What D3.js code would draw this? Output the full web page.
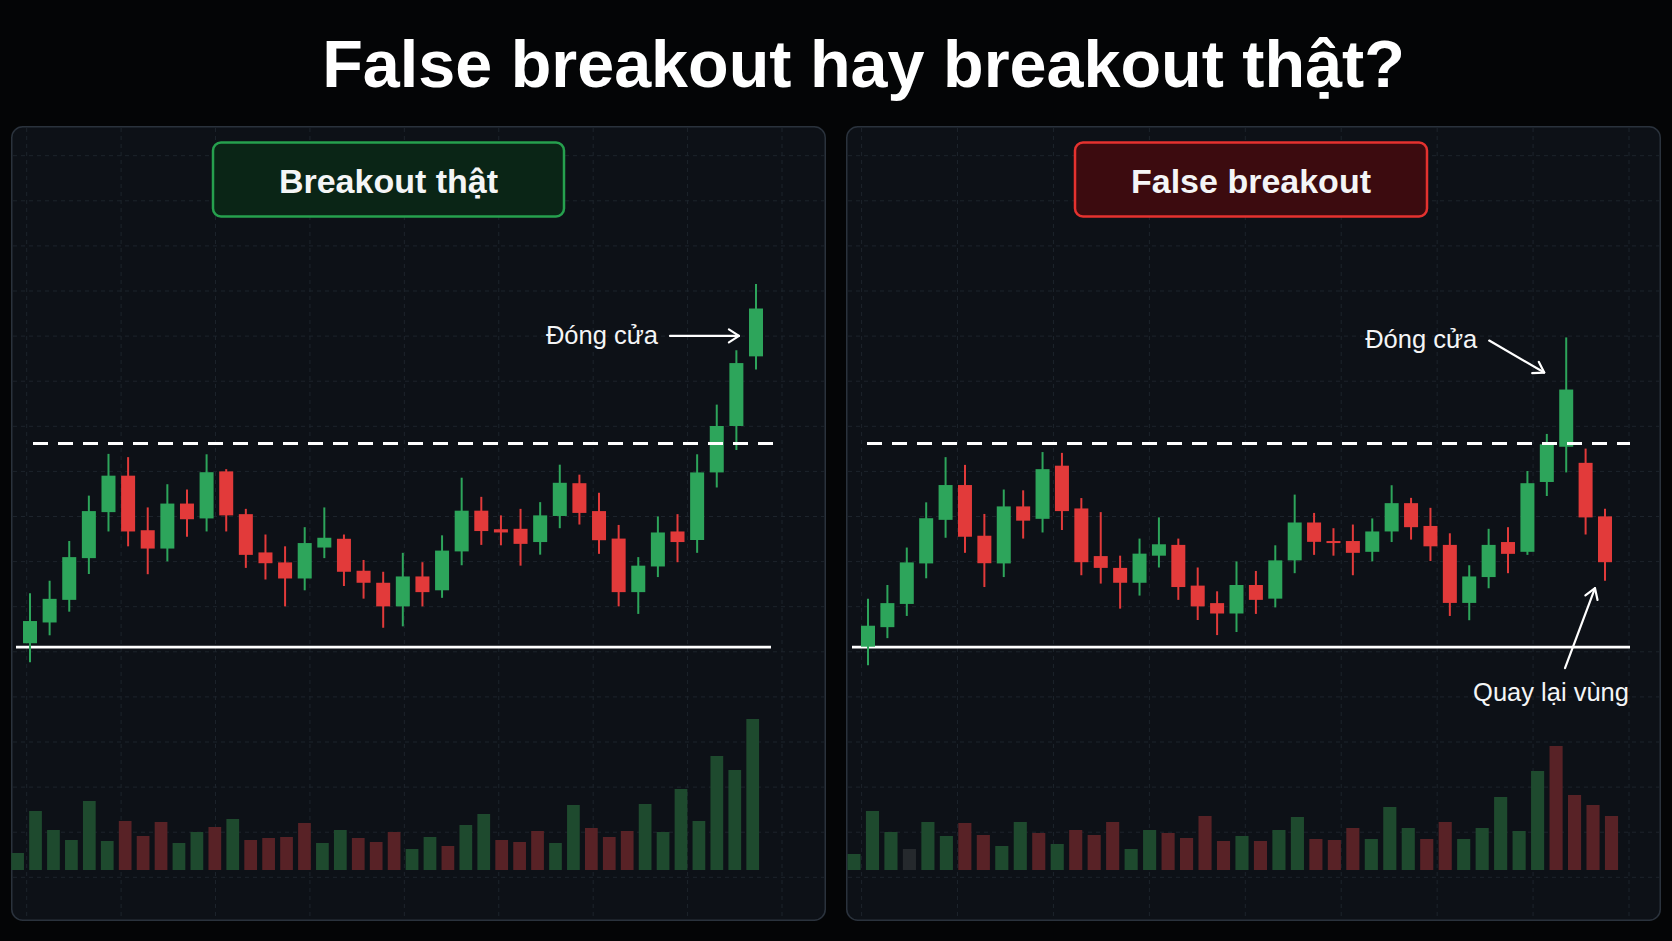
<!DOCTYPE html>
<html><head><meta charset="utf-8">
<script src="https://cdn.jsdelivr.net/npm/d3@7"></script>
<style>html,body{margin:0;padding:0;background:#040506;} svg{display:block}</style>
</head><body><svg id="c" width="1672" height="941"></svg>
<script>
// ---------------- DATA ----------------
const titleText = "False breakout hay breakout thật?";
const panelLabels = ["Breakout thật", "False breakout"];
const closeLabel = "Đóng cửa";
const returnLabel = "Quay lại vùng";
const supportLevel = [100, 100];
const resistanceLevel = [110, 110];

// Left panel: true breakout
const leftOpen  = [100.19,101.21,102.32,104.37,106.63,108.42,105.74,104.84,107.05,106.32,108.63,106.53,104.65,104.16,103.37,104.89,105.32,103.75,103.16,102.00,103.47,102.79,104.70,106.70,105.79,105.81,105.16,106.44,108.05,106.68,105.33,102.70,103.96,105.68,105.26,108.58,110.86,114.28];
const leftHigh  = [102.65,103.26,105.21,107.44,109.49,109.33,106.86,108.00,107.74,109.47,108.74,106.79,105.53,104.95,105.89,106.86,105.53,104.28,103.70,104.63,104.17,105.49,108.32,107.38,106.47,106.79,107.12,108.96,108.47,107.58,106.00,104.42,106.42,106.53,109.47,111.91,114.58,117.84];
const leftLow   = [99.26,100.58,101.74,103.59,105.68,104.95,103.58,104.21,105.42,105.68,105.68,103.89,103.32,102.00,102.79,104.37,103.00,102.38,100.95,101.02,102.00,102.42,104.02,105.02,105.00,104.00,104.54,105.84,106.02,104.58,102.00,101.63,103.44,104.17,104.63,107.84,109.68,113.63];
const leftClose = [101.28,102.37,104.42,106.68,108.42,105.68,104.84,107.05,106.28,108.59,106.47,104.53,104.12,103.37,105.11,105.37,103.70,103.16,102.00,103.47,102.70,104.74,106.70,105.70,105.63,105.07,106.47,108.07,106.59,105.25,102.70,104.00,105.63,105.16,108.58,110.86,113.95,116.63];
const leftVolume = [17,59,40,30,69,29,49,34,48,27,38,43,51,30,32,33,47,27,40,32,28,38,21,33,24,45,56,30,28,39,27,65,42,33,39,66,38,81,49,114,100,151];
const leftVolumeDir = "GGGGGGRRRGGRGRRRRGGRRRGGRGGRRRGGRRRGGGGGGG".split("");

// Right panel: false breakout
const rightOpen  = [100.02,100.98,102.12,104.11,106.25,107.96,105.47,104.11,106.91,106.30,108.91,106.81,104.47,103.89,103.16,104.49,105.02,103.02,102.16,101.65,103.05,102.38,104.26,106.12,105.21,105.21,104.68,105.68,107.07,105.95,105.02,102.17,103.44,105.16,104.68,108.11,109.84,109.05,106.42];
const rightHigh  = [102.38,103.05,104.89,107.11,109.33,108.95,106.54,107.74,107.70,109.58,109.54,107.32,106.63,104.49,105.33,106.37,105.33,103.91,102.74,104.21,103.74,105.00,107.49,106.59,105.84,106.02,106.32,107.95,107.33,106.84,105.59,104.02,105.81,105.89,108.65,110.47,115.21,109.75,106.79];
const rightLow   = [99.11,100.44,101.53,103.38,105.37,104.63,102.95,103.44,105.33,105.63,105.75,103.53,103.12,101.89,102.53,103.91,102.32,101.33,100.59,100.74,101.63,101.95,103.63,104.53,104.49,103.53,104.21,105.16,105.28,104.23,101.53,101.32,102.89,103.63,104.53,107.42,108.58,105.53,103.26];
const rightClose = [101.05,102.16,104.16,106.33,107.96,105.42,104.12,106.91,106.21,108.74,106.68,104.17,103.89,103.16,104.59,105.05,102.95,102.00,101.65,103.05,102.32,104.26,106.12,105.17,105.11,104.63,105.68,107.07,105.89,104.95,102.17,103.47,105.02,104.58,108.05,109.96,112.65,106.37,104.17];
const rightVolume = [16,59,38,21,48,34,47,35,24,48,37,26,40,35,48,21,40,37,32,54,29,34,29,40,53,31,30,42,31,63,42,31,48,31,42,73,39,99,124,75,65,54];
const rightVolumeDir = "GGGNGGRRGGRGRRRGGRRRRGRGGRRRGGGRRGGGGGRRRR".split("");

// ---------------- STYLE / LAYOUT ----------------
const C = {
  bg: "#040506", panel: "#0d1117", panelStroke: "#2a323c", grid: "#1d242c",
  up: "#2da55b", down: "#e23a3a",
  volUp: "#1e4a2e", volDown: "#582226", volN: "#25292d",
  text: "#f4f5f6"
};
const FONT = "'Liberation Sans', Arial, Helvetica, sans-serif";

const svg = d3.select("#c");
svg.append("rect").attr("width", 1672).attr("height", 941).attr("fill", C.bg);

// title
svg.append("text").attr("x", 863.5).attr("y", 87).attr("text-anchor", "middle")
  .attr("font-family", FONT).attr("font-weight", 700).attr("font-size", 66.5)
  .attr("fill", "#ffffff").text(titleText);

const y = d3.scaleLinear().domain([100, 110]).range([647.1, 443.5]);
const yVol = d3.scaleLinear().domain([0, 100]).range([870, 770]);

const panels = [
  { x: 11, w: 815, open: leftOpen, high: leftHigh, low: leftLow, close: leftClose,
    vol: leftVolume, volDir: leftVolumeDir,
    candleRange: [30, 756], volRange: [17.6, 752.7], gridX: [26.7, 782],
    supportX: [16, 771], resistX: [33, 780], labelBox: [213, 564],
    labelFill: "#0a2516", labelStroke: "#26a04e", label: panelLabels[0],
    support: supportLevel[0], resist: resistanceLevel[0] },
  { x: 846, w: 815, open: rightOpen, high: rightHigh, low: rightLow, close: rightClose,
    vol: rightVolume, volDir: rightVolumeDir,
    candleRange: [868, 1605], volRange: [854, 1611.5], gridX: [861.6, 1629],
    supportX: [852, 1630], resistX: [867, 1630], labelBox: [1075, 1427],
    labelFill: "#3c0b0f", labelStroke: "#e5322f", label: panelLabels[1],
    support: supportLevel[1], resist: resistanceLevel[1] }
];

const panelTop = 126, panelH = 795;
const gridY = d3.scaleLinear().domain([0, 16]).range([155.7, 877.3]);

function arrow(g, x1, y1, x2, y2) {
  g.append("line").attr("x1", x1).attr("y1", y1).attr("x2", x2).attr("y2", y2)
    .attr("stroke", "#ffffff").attr("stroke-width", 2.2).attr("stroke-linecap", "round");
  const a = Math.atan2(y2 - y1, x2 - x1), L = 12, s = Math.PI / 5.5;
  const p = [[x2 - L * Math.cos(a - s), y2 - L * Math.sin(a - s)], [x2, y2],
             [x2 - L * Math.cos(a + s), y2 - L * Math.sin(a + s)]];
  g.append("path").attr("d", d3.line()(p)).attr("fill", "none")
    .attr("stroke", "#ffffff").attr("stroke-width", 2.2)
    .attr("stroke-linecap", "round").attr("stroke-linejoin", "round");
}

const built = panels.map((P, pi) => {
  const g = svg.append("g");
  g.append("rect").attr("x", P.x + 0.75).attr("y", panelTop + 0.75)
    .attr("width", P.w - 1.5).attr("height", panelH - 1.5).attr("rx", 11)
    .attr("fill", C.panel).attr("stroke", C.panelStroke).attr("stroke-width", 1.5);

  // grid
  const gx = d3.scaleLinear().domain([0, 8]).range(P.gridX);
  const grid = g.append("g").attr("stroke", C.grid).attr("stroke-width", 1)
    .attr("stroke-dasharray", "4,4");
  d3.range(9).forEach(i => grid.append("line").attr("x1", gx(i)).attr("x2", gx(i))
    .attr("y1", panelTop + 2).attr("y2", panelTop + panelH - 2));
  d3.range(17).forEach(i => grid.append("line").attr("x1", P.x + 2).attr("x2", P.x + P.w - 2)
    .attr("y1", gridY(i)).attr("y2", gridY(i)));

  // volume
  const xv = d3.scalePoint().domain(d3.range(P.vol.length)).range(P.volRange);
  const vw = xv.step() * 0.71;
  g.append("g").selectAll("rect").data(P.vol).join("rect")
    .attr("x", (d, i) => xv(i) - vw / 2).attr("width", vw)
    .attr("y", d => yVol(d)).attr("height", d => yVol(0) - yVol(d))
    .attr("fill", (d, i) => P.volDir[i] === "G" ? C.volUp : P.volDir[i] === "R" ? C.volDown : C.volN);

  // support
  g.append("line").attr("x1", P.supportX[0]).attr("x2", P.supportX[1])
    .attr("y1", y(P.support)).attr("y2", y(P.support))
    .attr("stroke", "#ffffff").attr("stroke-width", 2.8);

  // candles
  const xc = d3.scalePoint().domain(d3.range(P.open.length)).range(P.candleRange);
  const bw = 14;
  const data = P.open.map((o, i) => ({ i, o, h: P.high[i], l: P.low[i], c: P.close[i] }));
  const cg = g.append("g");
  cg.selectAll("line").data(data).join("line")
    .attr("x1", d => xc(d.i)).attr("x2", d => xc(d.i))
    .attr("y1", d => y(d.h)).attr("y2", d => y(d.l))
    .attr("stroke", d => d.c >= d.o ? C.up : C.down).attr("stroke-width", 2);
  cg.selectAll("rect").data(data).join("rect")
    .attr("x", d => xc(d.i) - bw / 2).attr("width", bw)
    .attr("y", d => y(Math.max(d.o, d.c)))
    .attr("height", d => Math.max(2, Math.abs(y(d.o) - y(d.c))))
    .attr("fill", d => d.c >= d.o ? C.up : C.down);

  // resistance
  g.append("line").attr("x1", P.resistX[0]).attr("x2", P.resistX[1])
    .attr("y1", y(P.resist)).attr("y2", y(P.resist))
    .attr("stroke", "#ffffff").attr("stroke-width", 3).attr("stroke-dasharray", "15,10");

  // label box
  const [bx0, bx1] = P.labelBox;
  g.append("rect").attr("x", bx0).attr("y", 142.5).attr("width", bx1 - bx0).attr("height", 74)
    .attr("rx", 8).attr("fill", P.labelFill).attr("stroke", P.labelStroke).attr("stroke-width", 2.5);
  g.append("text").attr("x", (bx0 + bx1) / 2).attr("y", 192.5).attr("text-anchor", "middle")
    .attr("font-family", FONT).attr("font-weight", 700).attr("font-size", 34)
    .attr("fill", C.text).text(P.label);

  return { g, xc, data };
});

// annotations (anchored to candles through the scales)
{
  const { g, xc, data } = built[0];
  const d = data[data.length - 1];
  const ex = xc(d.i) - 17, ey = (y(d.o) + y(d.c)) / 2 + 3.5;
  const sx = ex - 69;
  arrow(g, sx, ey, ex, ey);
  g.append("text").attr("x", sx - 12).attr("y", ey + 8.5).attr("text-anchor", "end")
    .attr("font-family", FONT).attr("font-size", 25.5).attr("fill", C.text).text(closeLabel);
}
{
  const { g, xc, data } = built[1];
  const d = data[36];
  const ex = xc(d.i) - 22, ey = y(Math.max(d.o, d.c)) - 17;
  const sx = ex - 55, sy = ey - 32;
  arrow(g, sx, sy, ex, ey);
  g.append("text").attr("x", sx - 12).attr("y", sy + 7.5).attr("text-anchor", "end")
    .attr("font-family", FONT).attr("font-size", 25.5).attr("fill", C.text).text(closeLabel);

  const d2 = data[data.length - 1];
  const ex2 = xc(d2.i) - 10, ey2 = y(d2.l) + 7.5;
  const sx2 = ex2 - 30, sy2 = ey2 + 80;
  arrow(g, sx2, sy2, ex2, ey2);
  g.append("text").attr("x", 1629).attr("y", sy2 + 33).attr("text-anchor", "end")
    .attr("font-family", FONT).attr("font-size", 25.5).attr("fill", C.text).text(returnLabel);
}
</script></body></html>
